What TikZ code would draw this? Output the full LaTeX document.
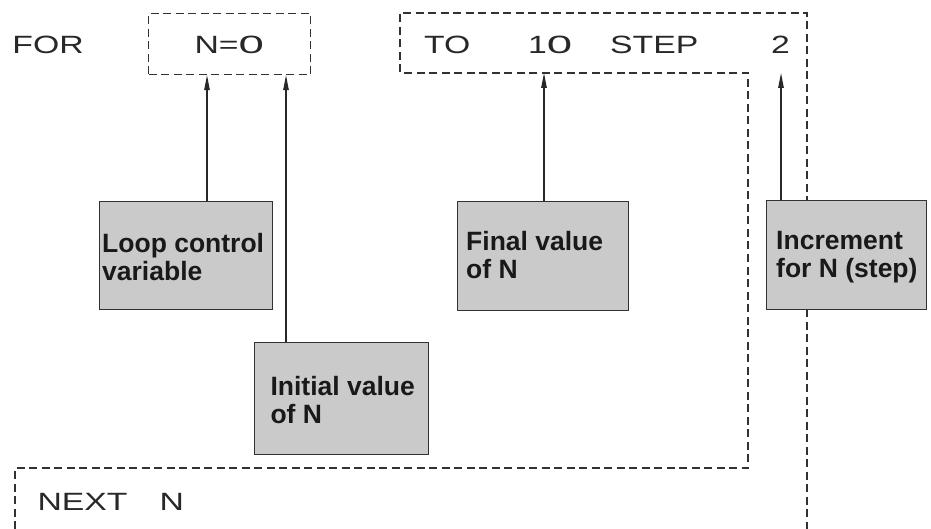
\documentclass[tikz,border=0pt]{standalone}
\usepackage{fontspec}
\setmainfont{Liberation Sans}
\newfontfamily\codefont[FakeStretch=1.35]{Liberation Sans}
\usetikzlibrary{arrows.meta}
\definecolor{boxgrey}{RGB}{202,202,202}
\definecolor{inkdark}{RGB}{40,40,40}
\definecolor{linedark}{RGB}{50,50,50}
\newcommand\roundzero{\scalebox{1.35}[1]{0}}
\tikzset{
  code/.style={font=\codefont\fontsize{25}{30}\selectfont, text=inkdark, inner sep=0pt, anchor=base west},
  dashline/.style={draw=linedark, line width=1.2pt, dash pattern=on 8pt off 4.5pt},
  dashbox/.style={dashline, anchor=north west, inner sep=0pt},
  greybox/.style={draw=linedark, line width=1.1pt, fill=boxgrey, anchor=north west, inner sep=0pt},
  lbl/.style={font=\fontsize{26.5}{28}\selectfont\bfseries, text=black!90, align=left, inner sep=0pt, anchor=north west},
  arr/.style={draw=inkdark, line width=1.1pt, -{Triangle[length=15pt,width=5.5pt]}},
}
\begin{document}
\begin{tikzpicture}[x=1pt,y=-1pt]
\useasboundingbox[fill=white] (0,0) rectangle (931,529);

% dashed outlines
\node[dashbox, minimum width=162pt, minimum height=61pt] (n0box) at (148,13) {};
\coordinate (p1) at (15,529);
\coordinate (p2) at (15,468);
\coordinate (p3) at (748,468);
\coordinate (p4) at (748,73);
\coordinate (p5) at (400,73);
\coordinate (p6) at (400,13);
\coordinate (p7) at (807,13);
\coordinate (p8) at (807,529);
\draw[dashline] (p1) -- (p2) -- (p3) -- (p4) -- (p5) -- (p6) -- (p7) -- (p8);

% code text
\node[code] (tFOR) at (12.3,54) {FOR};
\node[code] (tN0) at (194.4,54) {N=\roundzero};
\node[code] (tTO) at (424,54) {TO};
\node[code] (t10) at (528,54) {1\roundzero};
\node[code] (tSTEP) at (610,54) {STEP};
\node[code] (t2) at (771,54) {2};
\node[code] (tNEXT) at (37.4,510) {NEXT};
\node[code] (tN) at (159.4,510) {N};

% grey boxes
\node[greybox, minimum width=173pt, minimum height=108pt] (lcv) at (99,201) {};
\node[greybox, minimum width=174pt, minimum height=112pt] (ini) at (254,342) {};
\node[greybox, minimum width=171pt, minimum height=109pt] (fin) at (457,201) {};
\node[greybox, minimum width=160pt, minimum height=109pt] (inc) at (766,200) {};

\node[lbl] (lcvt) at (102,233.3) {Loop control\\variable};
\node[lbl] (init) at (270.3,376.3) {Initial value\\of N};
\node[lbl] (fint) at (466,231.3) {Final value\\of N};
\node[lbl] (inct) at (776,231.3) {Increment\\for N (step)};

% arrows
\coordinate (x1) at (207,0);
\coordinate (x2) at (286,0);
\coordinate (x3) at (544,0);
\coordinate (x4) at (781,0);
\draw[arr] (lcv.north -| x1) -- (n0box.south -| x1);
\draw[arr] (ini.north -| x2) -- (n0box.south -| x2);
\draw[arr] (fin.north -| x3) -- (p5 -| x3);
\draw[arr] (inc.north -| x4) -- (p5 -| x4);
\end{tikzpicture}
\end{document}
